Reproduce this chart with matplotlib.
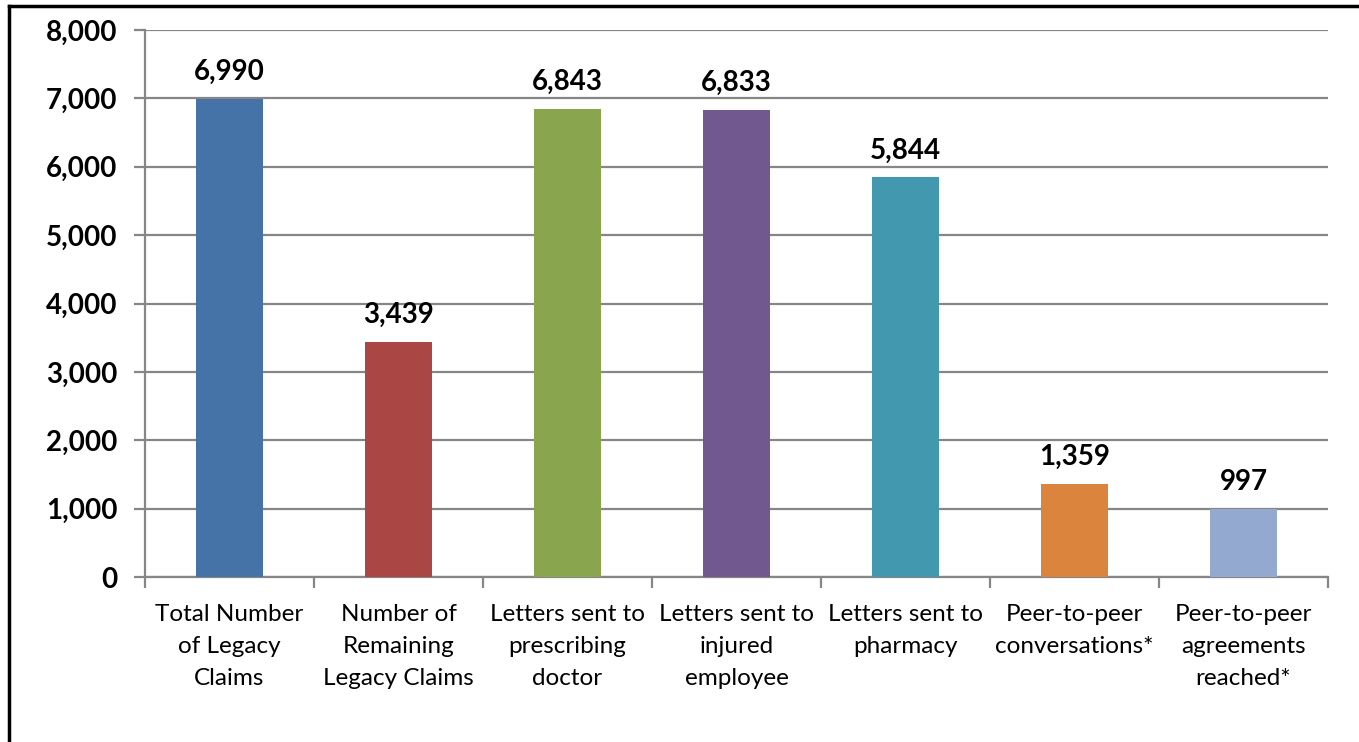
import matplotlib
matplotlib.use("Agg")
import matplotlib.pyplot as plt
from matplotlib.lines import Line2D

categories = ["Total Number\nof Legacy\nClaims", "Number of\nRemaining\nLegacy Claims",
              "Letters sent to\nprescribing\ndoctor", "Letters sent to\ninjured\nemployee",
              "Letters sent to\npharmacy", "Peer-to-peer\nconversations*",
              "Peer-to-peer\nagreements\nreached*"]
values = [6990, 3439, 6843, 6833, 5844, 1359, 997]
colors = ["#4572A7", "#AA4643", "#89A54E", "#71588F", "#4198AF", "#DB843D", "#93A9CF"]
yticks = [0, 1000, 2000, 3000, 4000, 5000, 6000, 7000, 8000]

plt.rcParams['font.family'] = ['Lato', 'DejaVu Sans']

W, H = 1359, 742
fig = plt.figure(figsize=(W/100, H/100), dpi=100)
ax = fig.add_axes([145/W, 1-577/H, (1328-145)/W, (577-30)/H])

x = list(range(len(values)))
ax.bar(x, values, width=0.40, color=colors, zorder=3)
for xi, v in zip(x, values):
    ax.annotate(f"{v:,}", (xi, v), xytext=(0, 10), textcoords="offset points",
                ha="center", va="bottom", fontsize=20, fontweight="bold")

ax.set_xlim(-0.5, len(values)-0.5)
ax.set_ylim(0, 8000)
ax.set_yticks(yticks)
ax.set_yticklabels([f"{t:,}" for t in yticks], fontsize=20, fontweight="bold")
ax.yaxis.grid(True, color="#868686", linewidth=1.6, zorder=0)
ax.set_axisbelow(True)

ax.set_xticks([i + 0.5 for i in range(-1, len(values))], minor=False)
ax.set_xticklabels([])
ax.set_xticks(x, minor=True)
ax.set_xticklabels(categories, minor=True, fontsize=17.5, linespacing=1.63)
ax.tick_params(axis="x", which="minor", length=0, pad=19.5)
ax.tick_params(axis="x", which="major", length=8, width=1.6, color="#868686", direction="out")
ax.tick_params(axis="y", length=8, width=1.6, color="#868686", pad=12)

for s in ["top", "right"]:
    ax.spines[s].set_visible(False)
for s in ["left", "bottom"]:
    ax.spines[s].set_color("#868686")
    ax.spines[s].set_linewidth(1.6)

# outer frame (left and top edges)
fig.add_artist(Line2D([9/W, 9/W], [0, 1-6/H], color="black", linewidth=2.5, transform=fig.transFigure))
fig.add_artist(Line2D([9/W, 1], [1-6/H, 1-6/H], color="black", linewidth=2.5, transform=fig.transFigure))

fig.savefig("out.png", dpi=100)
